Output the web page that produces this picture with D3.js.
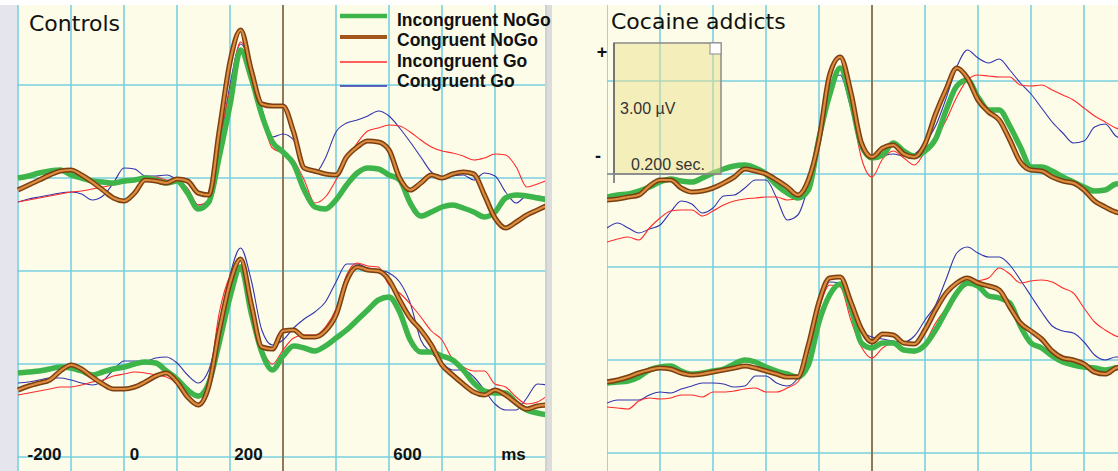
<!DOCTYPE html>
<html>
<head>
<meta charset="utf-8">
<script src="https://cdn.jsdelivr.net/npm/d3@7/dist/d3.min.js"></script>
<style>
  html, body { margin: 0; padding: 0; background: #fff; }
  svg { display: block; }
</style>
</head>
<body>
<svg id="chart" width="1118" height="471"></svg>
<script>
// Sample times (ms) of the averaged waveforms.
var times = [-200, -180, -160, -140, -120, -100, -80, -60, -40, -20, 0, 20, 40, 60, 80, 100, 120, 140, 160, 180,
  200, 220, 240, 260, 280, 300, 320, 340, 360, 380, 400, 420, 440, 460, 480, 500, 520, 540, 560, 580,
  600, 620, 640, 660, 680, 700, 720, 740, 760, 780, 800];

var conditions = ['Incongruent NoGo', 'Congruent NoGo', 'Incongruent Go', 'Congruent Go'];
var tickLabels = ['-200', '0', '200', '600', 'ms'];
var tickTimes = [-150, 20, 235, 535, 735];
var gridTimes = [-200, -100, 0, 100, 200, 300, 400, 500, 600, 700];
var gridVolts = [4.65, 0, -4.65, -9.3, -13.95];
var stimTime = 300;
var lowerOffset = -9.25;   // µV shift of the lower trace row

// Controls, upper trace (µV)
var ctrlUpIncNoGo = [0, 0.1, 0.25, 0.35, 0.4, 0.15, 0, -0.15, -0.2, -0.25, -0.15, -0.1, 0, -0.1, -0.25, -0.15, -0.75, -1.55, -1.2, 1.1,
  3.65, 6.4, 5.0, 3.15, 1.8, 1.3, 0.7, -0.6, -1.45, -1.55, -1.1, -0.35, 0.25, 0.5, 0.45, 0.15, -0.1, -1.25, -1.9, -1.7,
  -1.45, -1.35, -1.5, -1.7, -1.95, -1.7, -1.0, -0.85, -0.9, -1.0, -1.1];
var ctrlUpConNoGo = [-0.6, -0.35, -0.1, 0.15, 0.35, 0.4, 0.15, -0.2, -0.6, -1.0, -1.15, -0.75, -0.1, -0.15, -0.25, -0.05, -0.15, -0.75, -0.85, 2.4,
  5.8, 7.4, 5.4, 3.7, 3.6, 3.6, 2.3, 0.5, 0.35, 0.2, 0.15, 1.05, 1.55, 1.85, 1.8, 1.4, 0, -0.6, -0.25, 0.15,
  0, 0.2, 0.3, 0.2, -0.85, -2.0, -2.5, -2.2, -1.85, -1.6, -1.35];
var ctrlUpIncGo = [-1.2, -1.1, -1.0, -0.9, -0.8, -0.7, -0.65, -0.55, -0.45, -0.35, -0.25, -0.15, -0.05, 0.05, -0.1, -0.15, -0.5, -1.35, -1.1, 1.9,
  4.4, 6.8, 5.65, 3.15, 1.5, 1.25, 0.9, -0.1, -1.25, -0.95, -0.1, 0.9, 1.75, 2.35, 2.5, 2.65, 2.6, 2.3, 1.9, 1.55,
  1.35, 1.25, 1.1, 0.9, 1.0, 1.2, 1.15, 0.55, -0.45, -0.3, -0.1];
var ctrlUpConGo = [-1.2, -1.05, -0.95, -0.85, -0.75, -0.7, -0.8, -1.1, -0.9, -0.25, 0.5, 0.45, 0.1, 0.1, 0.15, -0.1, -0.65, -1.35, -1.3, 1.4,
  4.65, 6.7, 5.65, 3.5, 2.05, 2.2, 1.9, 0.55, 0.25, 1.0, 2.3, 2.75, 2.9, 3.1, 3.35, 3.1, 2.5, 1.8, 1.05, 0.3,
  0, 0.1, 0.15, -0.1, 0.25, 0.1, -0.7, -1.25, -0.9, -0.9, -1.0];

// Controls, lower trace (µV)
var ctrlLowIncNoGo = [-0.5, -0.45, -0.4, -0.3, -0.2, -0.25, -0.4, -0.6, -0.45, -0.3, -0.2, -0.05, 0.05, 0, -0.4, -0.8, -1.35, -1.65, -1.0, 1.05,
  3.3, 4.8, 2.5, 0.55, -0.35, 0.35, 0.85, 0.75, 0.6, 0.85, 1.25, 1.65, 2.15, 2.65, 3.15, 3.3, 2.55, 1.15, 0.55, 0.55,
  0.35, 0.15, -0.35, -1.0, -1.4, -1.5, -1.5, -2.0, -2.35, -2.5, -2.6];
var ctrlLowConNoGo = [-1.35, -1.15, -1.0, -0.85, -0.4, -0.1, -0.3, -0.7, -1.05, -1.3, -1.3, -1.2, -0.95, -0.65, -0.5, -0.95, -1.7, -2.1, -1.15, 1.65,
  4.0, 5.2, 2.95, 0.8, 0.7, 1.6, 1.65, 1.3, 1.3, 1.6, 2.4, 4.1, 4.8, 4.65, 4.6, 4.15, 3.15, 2.25, 1.65, 0.9,
  -0.1, -0.6, -1.05, -1.45, -1.6, -1.35, -1.6, -2.0, -2.3, -2.15, -2.1];
var ctrlLowIncGo = [-1.6, -1.5, -1.4, -1.3, -1.2, -1.2, -1.1, -0.95, -0.85, -0.65, -0.55, -0.45, -0.5, -0.6, -0.7, -1.0, -1.45, -1.75, -0.8, 2.55,
  4.35, 4.9, 2.45, 0.75, -0.05, 0.65, 1.25, 1.4, 1.4, 1.8, 2.7, 4.4, 5.0, 4.85, 4.8, 3.9, 3.5, 2.95, 2.3, 1.6,
  1.15, 0.2, -0.2, -0.4, -0.4, -1.05, -1.2, -1.7, -2.05, -1.95, -1.6];
var ctrlLowConGo = [-1.0, -0.95, -0.85, -0.75, -0.75, -0.85, -1.0, -1.1, -0.9, -0.35, 0.1, 0.1, 0.1, 0.25, 0.3, 0, -0.6, -1.0, -0.35, 1.8,
  4.4, 5.75, 4.15, 1.65, 0.9, 1.15, 1.75, 2.2, 2.55, 3.05, 4.05, 4.95, 4.95, 4.75, 4.65, 4.5, 4.05, 3.0, 1.15, 0.5,
  0, -0.35, -0.35, -0.7, -1.35, -2.05, -2.35, -2.35, -1.75, -1.05, -1.1];

// Cocaine addicts, upper trace (µV)
var cocUpIncNoGo = [-1.15, -1.05, -1.0, -0.85, -0.65, -0.4, -0.25, -0.35, -0.4, -0.2, 0.05, 0.25, 0.4, 0.45, 0.3, 0, -0.55, -0.95, -1.2, -0.8,
  1.8, 3.95, 5.3, 3.7, 1.45, 0.8, 0.95, 1.55, 1.15, 0.9, 1.15, 1.75, 3.2, 4.4, 4.7, 3.85, 3.2, 3.2, 2.4, 1.35,
  0.35, 0.35, 0.15, -0.15, -0.4, -0.65, -0.85, -0.8, -0.5, -0.45];
var cocUpConNoGo = [-1.3, -1.25, -1.15, -1.05, -0.6, -0.3, -0.3, -0.7, -0.9, -0.85, -0.7, -0.45, -0.15, 0.25, 0.15, 0, -0.3, -0.65, -1.05, -0.3,
  1.7, 4.95, 5.85, 4.1, 1.55, 0.85, 1.3, 1.45, 1.0, 0.85, 1.5, 3.0, 4.25, 5.3, 4.8, 3.7, 3.1, 2.7, 1.7, 0.6,
  0.2, 0.15, -0.15, -0.35, -0.45, -0.8, -1.35, -1.65, -1.9, -2.0];
var cocUpIncGo = [-3.4, -3.25, -3.15, -3.3, -2.7, -2.2, -1.85, -1.8, -1.8, -2.1, -1.85, -1.55, -1.35, -1.25, -1.2, -1.15, -1.15, -1.3, -1.2, -0.3,
  2.2, 4.7, 5.8, 3.55, 0.8, -0.15, 0.75, 1.15, 0.8, 0.45, 1.1, 1.75, 2.7, 3.85, 4.7, 4.95, 4.9, 4.85, 4.85, 4.45,
  4.4, 4.45, 4.2, 3.95, 3.7, 3.3, 2.9, 2.6, 2.3, 2.2];
var cocUpConGo = [-2.7, -2.45, -2.7, -2.95, -2.75, -2.55, -1.9, -1.35, -1.5, -1.95, -1.7, -1.1, -1.05, -0.7, -0.3, -0.3, -1.2, -2.3, -2.05, -0.55,
  1.95, 4.45, 4.95, 3.3, 1.2, 0.75, 0.9, 1.0, 0.9, 1.0, 1.55, 2.4, 3.8, 5.35, 6.2, 5.8, 5.55, 5.75, 5.2, 4.55,
  4.0, 3.3, 2.6, 2.05, 1.55, 1.65, 2.35, 2.5, 1.9, 1.7];

// Cocaine addicts, lower trace (µV)
var cocLowIncNoGo = [-1.2, -1.15, -1.1, -0.9, -0.55, -0.4, -0.35, -0.6, -0.75, -0.7, -0.6, -0.5, -0.25, -0.05, -0.15, -0.4, -0.6, -0.75, -0.9, -0.3,
  1.85, 3.2, 3.75, 2.6, 0.8, 0.55, 0.8, 0.8, 0.45, 0.4, 0.7, 1.45, 2.4, 3.3, 3.8, 3.65, 3.15, 3.05, 2.8, 1.65,
  0.8, 0.55, 0.15, -0.15, -0.3, -0.4, -0.45, -0.55, -0.45, -0.4];
var cocLowConNoGo = [-1.15, -1.05, -0.9, -0.7, -0.55, -0.45, -0.5, -0.7, -0.8, -0.75, -0.65, -0.55, -0.45, -0.35, -0.45, -0.6, -0.75, -0.9, -0.9, 0.7,
  2.85, 4.05, 4.1, 2.85, 1.5, 0.85, 1.25, 1.2, 0.8, 0.75, 1.45, 2.45, 3.3, 3.8, 4.05, 3.8, 3.65, 3.45, 2.6, 1.8,
  1.4, 1.0, 0.4, 0.05, -0.05, -0.25, -0.65, -0.75, -0.45, -0.35];
var cocLowIncGo = [-2.4, -2.45, -2.5, -2.1, -1.95, -2.0, -1.95, -1.8, -1.8, -1.9, -1.65, -1.65, -1.6, -1.5, -1.45, -1.65, -1.65, -1.45, -1.15, -0.05,
  2.45, 3.7, 3.6, 1.95, 0.6, 0.05, 0.55, 0.8, 0.45, 0.3, 0.8, 1.8, 2.55, 3.3, 3.7, 3.9, 4.05, 4.55, 4.25, 3.8,
  3.9, 3.95, 3.85, 3.55, 3.3, 2.55, 1.85, 1.45, 1.15, 1.05];
var cocLowConGo = [-2.2, -2.05, -2.05, -2.05, -1.8, -1.65, -1.7, -1.5, -1.35, -1.2, -1.2, -1.25, -1.4, -1.35, -0.85, -0.85, -1.2, -1.35, -0.95, 0.45,
  2.55, 3.85, 3.8, 2.25, 1.4, 1.1, 1.0, 0.9, 0.85, 1.15, 1.95, 2.7, 4.0, 5.3, 5.6, 5.3, 5.1, 5.1, 4.7, 3.95,
  3.15, 2.35, 1.65, 1.4, 1.3, 0.85, 0.2, -0.05, 0.1, 0.1];

// Line looks, same order as conditions.
var looks = [
  { color: '#3db54a', width: 5.5 },
  { color: '#7d3f12', width: 5.2, inner: '#dd8d3e', innerWidth: 2.2 },
  { color: '#ff2b2b', width: 1.1 },
  { color: '#3434ad', width: 1.1 }
];
var drawOrder = [3, 2, 0, 1];

var svg = d3.select('#chart');
var gridColor = '#79cfe0';
var paper = '#fcfce9';

// Page furniture.
svg.append('rect').attr('x', 0).attr('y', 0).attr('width', 1118).attr('height', 471).attr('fill', '#fff');
svg.append('rect').attr('x', 0).attr('y', 5).attr('width', 17).attr('height', 466).attr('fill', '#e5e5ee');

var panels = [
  {
    id: 'ctrl', title: 'Controls', bgX0: 17, bgX1: 545, x0: 17, x1: 545, xr: [18, 548], base: 178, titleX: 29, titleY: 31,
    rows: [[ctrlUpIncNoGo, ctrlUpConNoGo, ctrlUpIncGo, ctrlUpConGo], [ctrlLowIncNoGo, ctrlLowConNoGo, ctrlLowIncGo, ctrlLowConGo]]
  },
  {
    id: 'coc', title: 'Cocaine addicts', bgX0: 552, bgX1: 1118, x0: 607, x1: 1118, xr: [607, 1137], base: 174, titleX: 611, titleY: 29,
    rows: [[cocUpIncNoGo, cocUpConNoGo, cocUpIncGo, cocUpConGo], [cocLowIncNoGo, cocLowConNoGo, cocLowIncGo, cocLowConGo]]
  }
];

var defs = svg.append('defs');

panels.forEach(function (p) {
  var x = d3.scaleLinear().domain([-200, 800]).range(p.xr);
  var y = d3.scaleLinear().domain([0, 1]).range([p.base, p.base - 20]);
  p.x = x;
  p.y = y;

  svg.append('rect')
    .attr('x', p.bgX0).attr('y', 5)
    .attr('width', p.bgX1 - p.bgX0).attr('height', 466)
    .attr('fill', paper);

  defs.append('clipPath').attr('id', 'clip-' + p.id)
    .append('rect')
    .attr('x', p.x0).attr('y', 5)
    .attr('width', p.x1 - p.x0).attr('height', 466);

  var g = svg.append('g').attr('clip-path', 'url(#clip-' + p.id + ')');

  // Chart paper grid.
  g.selectAll('.vgrid').data(gridTimes).enter().append('line')
    .attr('x1', function (d) { return x(d); })
    .attr('x2', function (d) { return x(d); })
    .attr('y1', 5).attr('y2', 471)
    .attr('stroke', gridColor).attr('stroke-width', 1.6);
  g.selectAll('.hgrid').data(gridVolts).enter().append('line')
    .attr('x1', p.x0).attr('x2', p.x1)
    .attr('y1', function (d) { return y(d); })
    .attr('y2', function (d) { return y(d); })
    .attr('stroke', gridColor).attr('stroke-width', 1.6);

  // Stimulus marker.
  g.append('line')
    .attr('x1', x(stimTime)).attr('x2', x(stimTime))
    .attr('y1', 5).attr('y2', 471)
    .attr('stroke', '#8d5a2e').attr('stroke-width', 1.5);

  // Waveforms.
  p.rows.forEach(function (row, r) {
    var off = r === 0 ? 0 : lowerOffset;
    var line = d3.line()
      .x(function (d, i) { return x(times[i]); })
      .y(function (d) { return y(d + off); })
      .curve(d3.curveMonotoneX);
    drawOrder.forEach(function (k) {
      var lk = looks[k];
      g.append('path')
        .attr('d', line(row[k]))
        .attr('fill', 'none')
        .attr('stroke', lk.color)
        .attr('stroke-width', lk.width)
        .attr('stroke-linejoin', 'round');
      if (lk.inner) {
        g.append('path')
          .attr('d', line(row[k]))
          .attr('fill', 'none')
          .attr('stroke', lk.inner)
          .attr('stroke-width', lk.innerWidth)
          .attr('stroke-linejoin', 'round');
      }
    });
  });
});

// Separator between panels.
svg.append('rect').attr('x', 545).attr('y', 5).attr('width', 7).attr('height', 466).attr('fill', '#dcdcdc');
svg.append('line').attr('x1', 546).attr('x2', 546).attr('y1', 5).attr('y2', 471).attr('stroke', '#c4c4c4').attr('stroke-width', 1);

// Titles.
panels.forEach(function (p) {
  svg.append('text')
    .attr('x', p.titleX).attr('y', p.titleY)
    .attr('font-family', 'DejaVu Sans, sans-serif')
    .attr('font-size', 22)
    .attr('fill', '#111')
    .text(p.title);
});

// Legend (Controls panel).
var legendLineY = [16, 37, 62, 86];
var legendTextY = [26, 46, 66.5, 87];
var legendLook = [
  { color: '#3db54a', width: 4.5 },
  { color: '#a2561c', width: 4 },
  { color: '#ff2b2b', width: 1.5 },
  { color: '#3434ad', width: 1.5 }
];
var legend = svg.append('g');
conditions.forEach(function (c, i) {
  legend.append('line')
    .attr('x1', 340).attr('x2', 387)
    .attr('y1', legendLineY[i]).attr('y2', legendLineY[i])
    .attr('stroke', legendLook[i].color)
    .attr('stroke-width', legendLook[i].width);
  legend.append('text')
    .attr('x', 397).attr('y', legendTextY[i])
    .attr('font-family', 'Liberation Sans, Arial, sans-serif')
    .attr('font-weight', 'bold')
    .attr('font-size', 17.5)
    .attr('fill', '#111')
    .text(c);
});

// Time labels (Controls panel).
var ctrl = panels[0];
svg.selectAll('.tick').data(tickLabels).enter().append('text')
  .attr('x', function (d, i) { return ctrl.x(tickTimes[i]); })
  .attr('y', 460)
  .attr('text-anchor', 'middle')
  .attr('font-family', 'Liberation Sans, Arial, sans-serif')
  .attr('font-weight', 'bold')
  .attr('font-size', 17)
  .attr('fill', '#111')
  .text(function (d) { return d; });

// Calibration box (Cocaine addicts panel).
var cal = svg.append('g');
cal.append('rect')
  .attr('x', 614).attr('y', 43).attr('width', 107).attr('height', 131)
  .attr('fill', '#ece08e').attr('fill-opacity', 0.5)
  .attr('stroke', '#8a8a8a').attr('stroke-width', 1.5);
cal.append('line')
  .attr('x1', 614).attr('x2', 614).attr('y1', 43).attr('y2', 183)
  .attr('stroke', '#666').attr('stroke-width', 1.5);
cal.append('line')
  .attr('x1', 607).attr('x2', 721).attr('y1', 174).attr('y2', 174)
  .attr('stroke', '#8a8a8a').attr('stroke-width', 1.5);
cal.append('rect')
  .attr('x', 710).attr('y', 43).attr('width', 11).attr('height', 11)
  .attr('fill', '#fff').attr('stroke', '#8a8a8a').attr('stroke-width', 1);
cal.append('text')
  .attr('x', 602).attr('y', 58).attr('text-anchor', 'middle')
  .attr('font-family', 'Liberation Sans, Arial, sans-serif').attr('font-weight', 'bold')
  .attr('font-size', 18).attr('fill', '#111').text('+');
cal.append('text')
  .attr('x', 598).attr('y', 162).attr('text-anchor', 'middle')
  .attr('font-family', 'Liberation Sans, Arial, sans-serif').attr('font-weight', 'bold')
  .attr('font-size', 18).attr('fill', '#111').text('-');
cal.append('text')
  .attr('x', 620).attr('y', 114)
  .attr('font-family', 'Liberation Sans, Arial, sans-serif')
  .attr('font-size', 16).attr('fill', '#333').text('3.00 µV');
cal.append('text')
  .attr('x', 631).attr('y', 170)
  .attr('font-family', 'Liberation Sans, Arial, sans-serif')
  .attr('font-size', 16).attr('fill', '#333').text('0.200 sec.');
</script>
</body>
</html>
